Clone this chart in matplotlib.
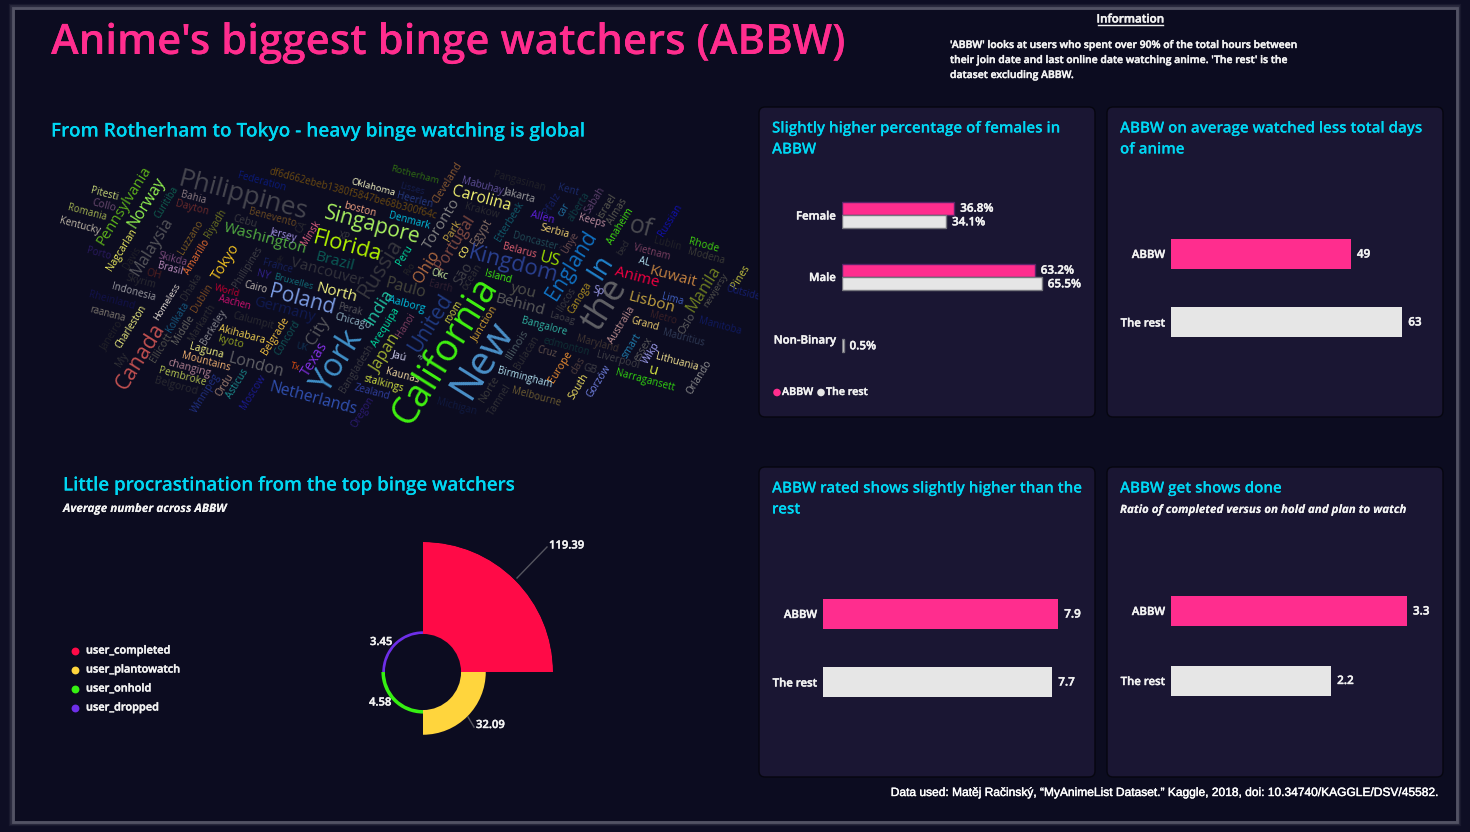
import numpy as np
import matplotlib
matplotlib.use("Agg")
import matplotlib.pyplot as plt
import matplotlib.patheffects as pe
from matplotlib.patches import FancyBboxPatch, Rectangle
from matplotlib.textpath import TextPath
from matplotlib.font_manager import FontProperties

# data
gender_cats = ["Female", "Male", "Non-Binary"]
gender_abbw = [36.8, 63.2, np.nan]
gender_rest = [34.1, 65.5, 0.5]

group_labels = ["ABBW", "The rest"]
days_vals = [49, 63]
rating_vals = [7.9, 7.7]
ratio_vals = [3.3, 2.24]

rose_names = ["user_completed", "user_plantowatch", "user_onhold", "user_dropped"]
rose_vals = [119.39, 32.09, 4.58, 3.45]

wc_words = ["Philippines", "Federation", "df6d662ebeb1380f5847be68b300f64c", "Oklahoma", "Rotherham", "Pitesti",
            "Collo", "Romania", "Kentucky", "Pennsylvania", "Norway", "Curitiba", "Bahia", "Dayton", "Benevento",
            "Cebu", "CA", "Singapore", "boston", "Denmark", "Washington", "Jersey", "Minsk", "XP", "Florida",
            "Brazil", "Vancouver", "Russia", "Peru", "Paulo", "Nagcarlan", "Porto", "Davis", "Malaysia", "Skikda",
            "Luzzano", "Riyadh", "Brasil", "Amarillo", "Tokyo", "Phillipines", "de", "France", "NY", "Bruxelles",
            "Skyrim", "OH", "Indonesia", "Homeless", "Dhaka", "Dublin", "World", "Cairo", "Aachen", "Poland",
            "Germany", "North", "Rheinland", "raanana", "Kolkata", "Markarth", "Calumpit", "Perak", "Chicago",
            "India", "Aalborg", "City", "Charleston", "Canada", "Janeiro", "Middle", "Ellicott", "Berkeley",
            "Akihabara", "kyoto", "Belgrade", "Concord", "UK", "Laguna", "Mountains", "My", "changing", "Pembroke",
            "Belgorod", "London", "Winnipeg", "Ordu", "Asticus", "Moscow", "Netherlands", "Tx", "Texas", "York",
            "Bangladesh", "Japan", "Arequipa", "Hanoi", "Jaú", "Kaunas", "stalkings", "Zealand", "Oregon",
            "California", "New", "Ohio", "Toronto", "Portugal", "Cleveland", "Lisses", "Heerlen", "Carolina",
            "Mabuhay", "Jakarta", "Pangasinan", "Krakow", "Park", "co", "Egypt", "Etterbeek", "Pfalz", "Kent", "car",
            "alberta", "Sabah", "israel", "Almas", "Anaheim", "of", "Russian", "Allen", "Keeps", "Serbia",
            "Doncaster", "Belarus", "Ünye", "England", "Kingdom", "US", "In", "the", "Lublin", "bed", "Vietnam",
            "Rhode", "Modena", "AL", "Anime", "Kuwait", "Manila", "newjersy", "Pines", "Outside", "Lima", "Sp",
            "Lisbon", "Ilocos", "Canoga", "you", "Behind", "Island", "Okc", "São", "ocean", "Earth", "Rio", "room",
            "Junction", "United", "a", "Laoag", "Bangalore", "Australia", "Grand", "Metro", "Oslo", "Manitoba",
            "Mauritius", "Maryland", "edmonton", "Cruz", "Illinois", "Bulacan", "Liverpool", "smart", "essex", "Wikp",
            "Lithuania", "u", "Orlando", "Narragansett", "das", "GB", "Europe", "South", "Gorzów", "Birmingham",
            "Melbourne", "Norte", "Tamnel", "Michigan"]

# word cloud layout: centre x, centre y, ink length (all px), rotation, colour
H = -15
V = 58
wc_place = {
    "Philippines": (243, 196, 131, H, "#46464f"), "Federation": (262, 182, 48, H, "#0a1a7a"),
    "df6d662ebeb1380f5847be68b300f64c": (353, 194, 172, H, "#6b4a10"), "Oklahoma": (373, 187, 45, H, "#f0f0c0"),
    "Rotherham": (415, 175, 49, H, "#2f6b12"), "Pitesti": (104, 194, 27, H, "#c8d878"),
    "Collo": (104, 206, 24, H, "#6a4a70"), "Romania": (87, 213, 39, H, "#a0b050"),
    "Kentucky": (80, 226, 42, H, "#c0b8a8"), "Pennsylvania": (124, 206, 91, V, "#5cb01a"),
    "Norway": (147, 203, 59, V, "#90f050"), "Curitiba": (167, 202, 36, V, "#0f5f50"),
    "Bahia": (193, 198, 25, H, "#8a7a80"), "Dayton": (192, 208, 33, H, "#6a2a2a"),
    "Benevento": (272, 218, 48, H, "#6a4a20"), "Cebu": (245, 222, 24, H, "#3a3a40"),
    "CA": (302, 227, 15, V, "#2a2a30"), "Singapore": (372, 226, 98, H, "#a8f060"),
    "boston": (360, 210, 32, H, "#f0a080"), "Denmark": (409, 221, 42, H, "#00c0e0"),
    "Washington": (265, 239, 85, H, "#50a840"), "Jersey": (284, 235, 29, H, "#a090e0"),
    "Minsk": (311, 233, 28, V, "#e06080"), "XP": (344, 237, 12, H, "#3a3a40"),
    "Florida": (347, 247, 68, H, "#b0f000"), "Brazil": (335, 262, 38, H, "#0a5a55"),
    "Vancouver": (327, 272, 75, H, "#33333b"), "Russia": (381, 268, 66, V, "#35353c"),
    "Peru": (405, 255, 22, V, "#00e0a0"), "Paulo": (406, 288, 40, H, "#45453a"),
    "Nagcarlan": (122, 250, 48, V, "#f0f060"), "Porto": (99, 254, 24, H, "#2a1a60"),
    "Davis": (132, 258, 25, V, "#222228"), "Malaysia": (152, 247, 66, V, "#55555a"),
    "Skikda": (173, 259, 29, H, "#7a4a7a"), "Luzzano": (191, 237, 39, V, "#7a5a20"),
    "Riyadh": (216, 223, 32, V, "#6a7020"), "Brasil": (170, 269, 24, H, "#c090c0"),
    "Amarillo": (197, 257, 40, V, "#f07030"), "Tokyo": (226, 262, 42, V, "#f0c020"),
    "Phillipines": (248, 267, 47, V, "#3f3f45"), "de": (281, 259, 11, V, "#222228"),
    "France": (277, 267, 30, H, "#15205a"), "NY": (263, 275, 14, H, "#30208a"),
    "Bruxelles": (293, 282, 40, H, "#106a75"), "Skyrim": (141, 282, 30, H, "#2a2a30"),
    "OH": (154, 275, 15, H, "#501f1f"), "Indonesia": (133, 292, 44, H, "#9a9aa0"),
    "Homeless": (167, 302, 43, V, "#e0d8d0"), "Dhaka": (192, 287, 30, V, "#303035"),
    "Dublin": (202, 298, 32, V, "#7a4a20"), "World": (227, 291, 26, H, "#c00030"),
    "Cairo": (255, 288, 23, H, "#c0b8b0"), "Aachen": (234, 303, 33, H, "#d01070"),
    "Poland": (302, 300, 65, H, "#7a9ae0"), "Germany": (284, 310, 63, H, "#101a50"),
    "North": (337, 293, 40, H, "#f0f080"), "Rheinland": (112, 301, 46, H, "#12124a"),
    "raanana": (107, 314, 36, H, "#807a70"), "Kolkata": (178, 317, 34, V, "#155a80"),
    "Markarth": (202, 323, 42, V, "#2f2f33"), "Calumpit": (253, 321, 42, H, "#2a2a30"),
    "Perak": (350, 310, 25, H, "#55555a"), "Chicago": (353, 322, 37, H, "#90b0c0"),
    "India": (379, 307, 39, V, "#20c0a0"), "Aalborg": (407, 305, 38, H, "#00c0e0"),
    "City": (318, 331, 32, V, "#55555a"), "Charleston": (131, 327, 49, V, "#f0f080"),
    "Canada": (141, 356, 76, V, "#c05050"), "Janeiro": (112, 336, 35, V, "#222228"),
    "Middle": (184, 330, 33, V, "#65655f"), "Ellicott": (162, 348, 33, V, "#50504a"),
    "Berkeley": (214, 327, 40, V, "#8a8a90"), "Akihabara": (242, 335, 47, H, "#f0d050"),
    "kyoto": (230, 342, 26, H, "#90a020"), "Belgrade": (276, 336, 43, V, "#f0c040"),
    "Concord": (288, 338, 40, V, "#0f5555"), "UK": (302, 347, 12, H, "#103050"),
    "Laguna": (206, 351, 34, H, "#f0f080"), "Mountains": (206, 362, 49, H, "#f0b070"),
    "My": (122, 360, 17, V, "#303035"), "changing": (189, 368, 44, H, "#b08090"),
    "Pembroke": (182, 377, 48, H, "#b0c050"), "Belgorod": (176, 386, 43, H, "#2a2a30"),
    "London": (256, 365, 55, H, "#606065"), "Winnipeg": (206, 393, 46, V, "#203080"),
    "Ordu": (225, 385, 26, V, "#a08070"), "Asticus": (238, 384, 34, V, "#1a8a8a"),
    "Moscow": (253, 392, 40, V, "#1a1a90"), "Netherlands": (313, 399, 89, H, "#3050b0"),
    "Tx": (295, 367, 10, H, "#e05010"), "Texas": (315, 359, 40, V, "#8030e0"),
    "York": (338, 362, 74, V, "#4090c8"), "Bangladesh": (357, 369, 55, V, "#3a3a40"),
    "Japan": (386, 354, 46, V, "#a0b030"), "Arequipa": (386, 327, 45, V, "#00e0a0"),
    "Hanoi": (406, 325, 27, V, "#804060"), "Jaú": (399, 356, 16, H, "#d0d0f0"),
    "Kaunas": (402, 376, 34, H, "#f0d8a0"), "stalkings": (384, 384, 40, H, "#d0e040"),
    "Zealand": (372, 392, 36, H, "#3040a0"), "Oregon": (363, 412, 36, V, "#2a1a70"),
    "California": (446, 351, 168, V, "#40f010"), "New": (483, 360, 90, V, "#4a90c8"),
    "Ohio": (427, 267, 37, V, "#b06a40"), "Toronto": (442, 224, 59, V, "#808080"),
    "Portugal": (455, 242, 62, V, "#804a40"), "Cleveland": (448, 183, 47, V, "#8a5a30"),
    "Lisses": (412, 189, 25, H, "#151f50"), "Heerlen": (415, 200, 36, H, "#253a80"),
    "Carolina": (481, 199, 59, H, "#f0f070"), "Mabuhay": (482, 186, 43, H, "#60509a"),
    "Jakarta": (520, 195, 33, H, "#a0a0a0"), "Pangasinan": (519, 182, 52, H, "#222228"),
    "Krakow": (482, 211, 35, H, "#2a2a30"), "Park": (453, 230, 25, V, "#c0a040"),
    "co": (464, 251, 15, V, "#f0e060"), "Egypt": (481, 232, 31, V, "#806a60"),
    "Etterbeek": (510, 222, 46, V, "#105a6a"), "Pfalz": (552, 204, 24, V, "#151f60"),
    "Kent": (568, 190, 21, H, "#1a2a6a"), "car": (564, 210, 15, V, "#2070a0"),
    "alberta": (579, 207, 33, V, "#0f3f45"), "Sabah": (595, 200, 30, V, "#5a3f6a"),
    "israel": (607, 206, 27, V, "#5a5a50"), "Almas": (617, 212, 30, V, "#5a5a50"),
    "Anaheim": (621, 226, 42, V, "#40e010"), "of": (641, 228, 25, H, "#4a4a50"),
    "Russian": (670, 220, 36, V, "#1010b0"), "Allen": (542, 218, 24, H, "#6020e0"),
    "Keeps": (592, 221, 27, H, "#c090a0"), "Serbia": (555, 231, 29, H, "#f0d070"),
    "Doncaster": (535, 242, 46, H, "#204a55"), "Belarus": (519, 251, 34, H, "#e06070"),
    "Ünye": (570, 243, 24, V, "#705050"), "England": (572, 265, 78, V, "#1070c0"),
    "Kingdom": (513, 265, 90, H, "#2a4090"), "US": (550, 260, 20, H, "#a0e000"),
    "In": (601, 267, 24, V, "#2080c8"), "the": (605, 305, 60, V, "#606065"),
    "Lublin": (667, 244, 27, H, "#222228"), "bed": (623, 248, 17, V, "#303035"),
    "Vietnam": (652, 252, 37, H, "#7a4060"), "Rhode": (704, 246, 30, H, "#40d010"),
    "Modena": (706, 257, 37, H, "#3a3a35"), "AL": (644, 262, 12, H, "#b0e0f0"),
    "Anime": (637, 278, 46, H, "#f00040"), "Kuwait": (673, 277, 48, H, "#c08040"),
    "Manila": (704, 289, 52, V, "#708020"), "newjersy": (716, 290, 40, V, "#50504a"),
    "Pines": (741, 277, 26, V, "#c0c040"), "Outside": (743, 293, 35, H, "#151f70"),
    "Lima": (672, 299, 21, H, "#4060c0"), "Sp": (598, 291, 11, H, "#a0a0f0"),
    "Lisbon": (652, 303, 46, H, "#c0a040"), "Ilocos": (567, 300, 26, V, "#3a3a40"),
    "Canoga": (580, 298, 36, V, "#b09020"), "you": (524, 291, 26, H, "#50504a"),
    "Behind": (520, 305, 49, H, "#5a5a5a"), "Island": (498, 277, 26, H, "#40f010"),
    "Okc": (439, 275, 17, H, "#d0f0a0"), "São": (464, 274, 26, V, "#3f3f45"),
    "ocean": (472, 277, 30, V, "#303035"), "Earth": (440, 287, 23, H, "#302030"),
    "Rio": (410, 269, 14, V, "#252528"), "room": (454, 312, 26, V, "#d0d040"),
    "Junction": (485, 324, 42, V, "#d0a030"), "United": (431, 323, 66, V, "#203a80"),
    "a": (421, 357, 6, V, "#708090"), "Laoag": (562, 318, 26, H, "#3f3f45"),
    "Bangalore": (544, 327, 46, H, "#30b0a0"), "Australia": (622, 325, 42, V, "#c09090"),
    "Grand": (645, 324, 28, H, "#f0d070"), "Metro": (663, 318, 27, H, "#3a2025"),
    "Oslo": (687, 324, 24, V, "#606060"), "Manitoba": (720, 326, 43, H, "#101a60"),
    "Mauritius": (683, 338, 42, H, "#2f3a55"), "Maryland": (597, 344, 42, H, "#403530"),
    "edmonton": (566, 347, 47, H, "#0f3035"), "Cruz": (547, 352, 20, H, "#60504a"),
    "Illinois": (518, 344, 33, V, "#4a5a60"), "Bulacan": (527, 353, 38, V, "#2f2f33"),
    "Liverpool": (618, 360, 43, H, "#3f3f45"), "smart": (632, 346, 29, V, "#2080b0"),
    "essex": (643, 349, 28, V, "#5a5a5a"), "Wikp": (651, 353, 25, V, "#a0a0f0"),
    "Lithuania": (677, 362, 42, H, "#f0e090"), "u": (653, 371, 8, H, "#d0e040"),
    "Orlando": (699, 377, 39, V, "#909090"), "Narragansett": (645, 381, 60, H, "#30d010"),
    "das": (578, 366, 20, V, "#4a3a3a"), "GB": (590, 369, 14, H, "#3f3f45"),
    "Europe": (561, 367, 36, V, "#f09030"), "South": (579, 387, 29, V, "#f0e060"),
    "Gorzów": (599, 381, 38, V, "#7080e0"), "Birmingham": (525, 378, 55, H, "#b0e0f0"),
    "Melbourne": (536, 397, 50, H, "#6a5a30"), "Norte": (490, 389, 30, V, "#3a3a3a"),
    "Tamnel": (500, 400, 36, V, "#303035"), "Michigan": (456, 407, 40, H, "#101a40"),
}

W, HT = 1470, 832
BG = "#0c0c20"
PANEL = "#1a1633"
PINK = "#ff2d8e"
GREY = "#e6e6e6"
CYAN = "#00d7f3"
TXT = "#f2f2f2"
rose_cols = ["#ff0a47", "#ffd53d", "#36f012", "#6e2fe8"]
FONT = "Open Sans"

plt.rcParams["font.family"] = [FONT, "DejaVu Sans"]
fig = plt.figure(figsize=(W / 100, HT / 100), dpi=100, facecolor="#0e0e24")

page = fig.add_axes([0, 0, 1, 1])
page.set_xlim(0, W)
page.set_ylim(HT, 0)
page.axis("off")


def box(x0, y0, x1, y1):
    # axes rectangle given in page pixels
    return [x0 / W, 1 - y1 / HT, (x1 - x0) / W, (y1 - y0) / HT]


def thick(color, lw=0.3):
    return [pe.withStroke(linewidth=lw, foreground=color)]


def label(x, y, s, size=8.2, color=TXT, ha="left", weight="semibold", lw=0.3, **kw):
    return page.text(x, y + 1.5, s, fontsize=size, color=color, ha=ha, va="center", fontweight=weight, zorder=6,
                     path_effects=thick(color, lw), **kw)


for lw, a in [(6, 0.07), (4, 0.12), (2, 0.3)]:
    page.add_patch(Rectangle((13, 8), 1444, 814, fc="none", ec="#b0b0bb", lw=lw, alpha=a, zorder=1))
page.add_patch(Rectangle((15, 10), 1441, 811, fc=BG, ec="none", zorder=1.1))

# word cloud
fp = FontProperties(family=FONT)
for w in wc_words:
    x, y, length, rot, col = wc_place[w]
    em = length / (0.55 * len(w))
    length = length - (0.2 if rot == V else 0.08) * em  # lengths were read corner to corner
    ink = TextPath((0, 0), w, size=10, prop=fp).get_extents().width
    size = 10 * length / ink * 0.72
    page.text(x, y, w, fontsize=size, color=col, rotation=rot, rotation_mode="anchor",
              ha="center", va="center", zorder=2)

# panels
panels = [(759, 107, 1095, 417), (1107, 107, 1443, 417), (759, 467, 1095, 777), (1107, 467, 1443, 777)]
for x0, y0, x1, y1 in panels:
    page.add_patch(FancyBboxPatch((x0 + 4, y0 + 4), x1 - x0 - 8, y1 - y0 - 8, boxstyle="round,pad=4,rounding_size=6",
                                  fc=PANEL, ec="#06060f", lw=1, zorder=3))

# headings
label(51, 41.5, "Anime's biggest binge watchers (ABBW)", size=30.2, color=PINK, lw=0)
label(51, 130, "From Rotherham to Tokyo - heavy binge watching is global", size=13.7, color=CYAN, lw=0)
label(63, 484, "Little procrastination from the top binge watchers", size=13.5, color=CYAN, lw=0)
label(63, 507, "Average number across ABBW", size=8.4, style="italic", weight="bold", lw=0)
label(1130.5, 17.5, "Information", size=8.4, ha="center")
page.plot([1098, 1163], [25, 25], color=TXT, lw=1, zorder=6)
label(950, 44, "'ABBW' looks at users who spent over 90% of the total hours between", size=7.5)
label(950, 59, "their join date and last online date watching anime. 'The rest' is the", size=7.5)
label(950, 74, "dataset excluding ABBW.", size=7.5)
page.text(1440, 793, "Data used: Matěj Račinský, “MyAnimeList Dataset.” Kaggle, 2018, doi: 10.34740/KAGGLE/DSV/45582.",
          fontsize=8.63, color="white", ha="right", va="center",
          family=["Liberation Sans", "DejaVu Sans"], zorder=6, path_effects=thick("white", 0.3))

label(772, 127, "Slightly higher percentage of females in", size=10.9, color=CYAN, lw=0)
label(772, 148, "ABBW", size=10.9, color=CYAN, lw=0)
label(1120, 127, "ABBW on average watched less total days", size=10.9, color=CYAN, lw=0)
label(1120, 148, "of anime", size=10.9, color=CYAN, lw=0)
label(772, 487, "ABBW rated shows slightly higher than the", size=10.9, color=CYAN, lw=0)
label(772, 508, "rest", size=10.9, color=CYAN, lw=0)
label(1120, 487, "ABBW get shows done", size=10.9, color=CYAN, lw=0)
label(1120, 508, "Ratio of completed versus on hold and plan to watch", size=8.3, style="italic", weight="bold", lw=0)


def clean(ax):
    ax.patch.set_alpha(0)
    ax.axis("off")


def value_text(ax, s, x, y):
    ax.annotate(s, (x, y), xytext=(6, 0), textcoords="offset pixels", va="center", color=TXT, fontsize=8.4,
                fontweight="semibold", path_effects=thick(TXT))


# gender bars
ax = fig.add_axes(box(842, 184, 1086, 370))
clean(ax)
pos = np.arange(len(gender_cats))
ax.barh(pos - 0.11, gender_abbw, height=0.21, color=PINK, edgecolor="#5a2468", lw=1)
ax.barh(pos + 0.11, gender_rest, height=0.21, color=GREY, edgecolor="#77777f", lw=1)
ax.set_xlim(0, 80)
ax.set_ylim(2.5, -0.5)
for i, (a, b) in enumerate(zip(gender_abbw, gender_rest)):
    if not np.isnan(a):
        value_text(ax, f"{a}%", a, i - 0.11)
    value_text(ax, f"{b}%", b, i + 0.11)
label(836, 215.5, gender_cats[0], ha="right")
label(836, 277, gender_cats[1], ha="right")
label(836, 339.5, gender_cats[2], ha="right")
page.scatter([777, 821], [392.5, 392.5], s=30, c=[PINK, GREY], lw=0, zorder=6)
label(782, 391, group_labels[0], size=7.7)
label(826, 391, group_labels[1], size=7.7)


# two-bar panels
def two_bars(x0, ymid0, ymid1, xmax, width, vals, lab_y):
    gap = ymid1 - ymid0
    ax = fig.add_axes(box(x0, ymid0 - gap / 2, x0 + width, ymid1 + gap / 2))
    clean(ax)
    ax.barh([0, 1], vals, height=30 / gap, color=[PINK, GREY])
    ax.set_xlim(0, xmax)
    ax.set_ylim(1.5, -0.5)
    for i, v in enumerate(vals):
        value_text(ax, f"{v:.1f}" if v != int(v) else f"{v}", v, i)
    for i, g in enumerate(group_labels):
        label(x0 - 6, lab_y[i], g, ha="right")


two_bars(1171, 254, 322, 70, 257, days_vals, [254, 322.5])
two_bars(823, 614, 682, 9, 268, rating_vals, [614, 682.5])
two_bars(1171, 611, 680.5, 4, 286, ratio_vals, [611, 681])

# rose chart, radius linear in value on top of a fixed hole
hole = 49.4
rmax = max(rose_vals) + hole
pol = fig.add_axes(box(293, 542, 553, 802), projection="polar")
pol.patch.set_alpha(0)
pol.set_theta_zero_location("N")
pol.set_theta_direction(-1)
theta = np.arange(4) * np.pi / 2
pol.bar(theta, rose_vals, width=np.pi / 2, bottom=hole, align="edge", color=rose_cols, lw=0)
pol.set_ylim(0, rmax)
pol.axis("off")

page.plot([517, 547], [578, 547], color="#55555f", lw=1, zorder=4)
page.plot([468, 474], [717, 727], color="#55555f", lw=1, zorder=4)
label(549, 544.5, f"{rose_vals[0]}", size=8.1)
label(476, 724, f"{rose_vals[1]}", size=8.1)
label(369, 701.5, f"{rose_vals[2]}", size=8.1)
label(370, 641, f"{rose_vals[3]}", size=8.1)

for i, name in enumerate(rose_names):
    yy = 651 + i * 19
    page.scatter([75], [yy], s=32, c=rose_cols[i], lw=0, zorder=6)
    label(86, yy - 1.5, name, size=7.9)

fig.savefig("out.png", dpi=100, facecolor=fig.get_facecolor())
